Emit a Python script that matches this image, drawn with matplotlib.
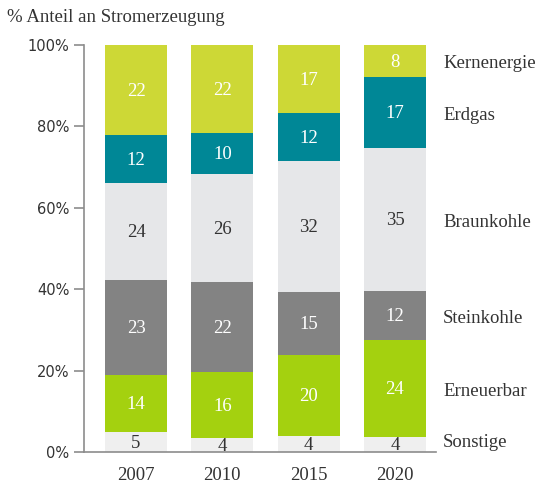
import matplotlib
matplotlib.use("Agg")
import numpy as np
import matplotlib.pyplot as plt

# --- data (share of power generation, %) ---
years = ["2007", "2010", "2015", "2020"]
sources = ["Sonstige", "Erneuerbar", "Steinkohle", "Braunkohle", "Erdgas", "Kernenergie"]
sonstige = [4.9, 3.5, 3.9, 3.7]
erneuerbar = [14.0, 16.1, 19.9, 23.8]
steinkohle = [23.3, 22.1, 15.5, 12.0]
braunkohle = [23.8, 26.6, 32.1, 35.1]
erdgas = [11.8, 10.0, 11.8, 17.5]
kernenergie = [22.2, 21.7, 16.8, 7.9]

# printed labels (rounded values as shown in the chart)
labels_sonstige = [5, 4, 4, 4]
labels_erneuerbar = [14, 16, 20, 24]
labels_steinkohle = [23, 22, 15, 12]
labels_braunkohle = [24, 26, 32, 35]
labels_erdgas = [12, 10, 12, 17]
labels_kernenergie = [22, 22, 17, 8]

series = [sonstige, erneuerbar, steinkohle, braunkohle, erdgas, kernenergie]
labels = [labels_sonstige, labels_erneuerbar, labels_steinkohle,
          labels_braunkohle, labels_erdgas, labels_kernenergie]
colors = ["#efefef", "#a4d10f", "#838383", "#e6e7e9", "#008796", "#cdd836"]
text_colors = ["#333333", "white", "white", "#333333", "white", "white"]

SERIF = "Liberation Serif"
GREY = "#8c8c8c"
FS = 13.5

fig = plt.figure(figsize=(5.38, 4.84), dpi=100)
ax = fig.add_axes([84 / 538, 32 / 484, 352 / 538, 407.3 / 484])

x = np.arange(len(years))
bottom = np.zeros(len(years))
for vals, labs, col, tcol in zip(series, labels, colors, text_colors):
    vals = np.array(vals)
    ax.bar(x, vals, bottom=bottom, width=0.72, color=col, linewidth=0)
    for xi, b, v, lab in zip(x, bottom, vals, labs):
        ax.text(xi, b + v / 2 - 0.3, str(lab), ha="center", va="center",
                color=tcol, fontsize=FS, family=SERIF)
    bottom = bottom + vals

# category names on the right, next to the 2020 bar
last = np.cumsum([s[-1] for s in series])
prev = np.concatenate([[0], last[:-1]])
for name, lo, hi in zip(sources, prev, last):
    yc = (lo + hi) / 2 - 0.7
    if name == "Sonstige":
        yc += 1.2
    ax.text(3.556, yc, name, ha="left", va="center", fontsize=FS,
            family=SERIF, color="#333333", clip_on=False)

ax.set_xlim(-0.6025, 3.475)
ax.set_ylim(0, 100)
ax.set_yticks([0, 20, 40, 60, 80, 100])
ax.set_yticklabels(["0%", "20%", "40%", "60%", "80%", "100%"])
ax.set_xticks(x)
ax.set_xticklabels(years, family=SERIF, fontsize=FS, color="#333333")

ax.tick_params(axis="x", length=0, pad=10.5)
ax.tick_params(axis="y", length=7.5, width=1.2, color=GREY, pad=3,
               labelsize=10.5, labelcolor="#333333")

for side in ["top", "right"]:
    ax.spines[side].set_visible(False)
for side in ["left", "bottom"]:
    ax.spines[side].set_color(GREY)
    ax.spines[side].set_linewidth(1.2)

fig.text(7 / 538, 1 - 17 / 484, "% Anteil an Stromerzeugung", ha="left",
         va="center", fontsize=FS, family=SERIF, color="#333333")

fig.savefig("out.png", dpi=100)
